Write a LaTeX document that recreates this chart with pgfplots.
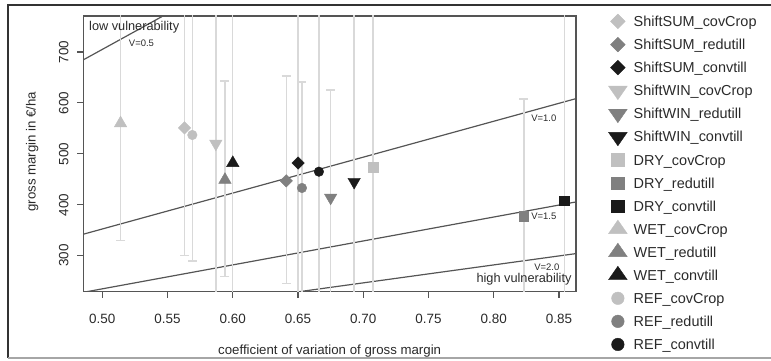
\documentclass[border=0pt]{standalone}
\usepackage{fontspec}
\setmainfont{Liberation Sans}
\usepackage{pgfplots}
\pgfplotsset{compat=1.18}
\definecolor{lg}{HTML}{C0C0C0}
\definecolor{mg}{HTML}{808080}
\definecolor{dk}{HTML}{1A1A1A}
\definecolor{eb}{HTML}{D9D9D9}
\definecolor{ln}{HTML}{555555}
\definecolor{tx}{HTML}{2A2A2A}
\definecolor{fr}{HTML}{333333}
\pgfplotsset{
  dia/.style={only marks, mark=square*, mark size=4.4bp, mark options={rotate=45, fill=#1, draw=#1},
    legend image post style={mark size=5.2bp}},
  tup/.style={only marks, mark=triangle*, mark size=7.2bp, mark options={fill=#1, draw=#1},
    legend image post style={mark size=9bp, /tikz/every mark/.append style={xscale=1.2}}},
  tdn/.style={only marks, mark=triangle*, mark size=7.2bp, mark options={rotate=180, fill=#1, draw=#1},
    legend image post style={mark size=9bp, /tikz/every mark/.append style={xscale=1.2}}},
  sq/.style={only marks, mark=square*, mark size=4.8bp, mark options={fill=#1, draw=#1},
    legend image post style={mark size=6.2bp}},
  ci/.style={only marks, mark=*, mark size=4.8bp, mark options={fill=#1, draw=#1},
    legend image post style={mark size=6.3bp}},
}
\begin{document}
\begin{tikzpicture}
\useasboundingbox (0bp,0bp) rectangle (771bp,361bp);
\draw[line width=2.2bp, fr] (771bp,356bp) -- (8bp,356bp) -- (8bp,3bp);
\draw[line width=1.2bp, gray!70] (8bp,3bp) -- (771bp,3bp);
\begin{axis}[
  at={(83.3bp,69.3bp)}, anchor=south west, scale only axis,
  width=492.7bp, height=275.7bp,
  xmin=0.48545, xmax=0.8630, ymin=229.4, ymax=770.6,
  xtick={0.50,0.55,0.60,0.65,0.70,0.75,0.80,0.85},
  xticklabels={0.50,0.55,0.60,0.65,0.70,0.75,0.80,0.85},
  ytick={300,400,500,600,700},
  yticklabels={300,400,500,600,700},
  tick align=outside, major tick length=6bp,
  xtick pos=bottom, ytick pos=left,
  axis line style={ln, line width=1.1bp},
  tick style={ln, line width=1.1bp},
  ticklabel style={font=\fontsize{13.5}{13.5}\selectfont, text=tx},
  xticklabel style={anchor=base, yshift=-25.6bp},
  yticklabel style={rotate=90, anchor=base},
  yticklabel shift=9bp,
  xlabel={coefficient of variation of gross margin},
  ylabel={gross margin in €/ha},
  label style={font=\fontsize{13.3}{13.3}\selectfont, text=tx},
  xlabel style={at={(axis description cs:0.5,-0.2290)}, anchor=base},
  ylabel style={at={(axis description cs:-0.097,0.508)}, anchor=base},
  legend style={at={(axis description cs:1.066,1.022)}, anchor=north west,
    draw=none, fill=none, inner sep=0pt, outer sep=0pt, row sep=0pt, column sep=6.5bp,
    font=\fontsize{14.5}{14.5}\selectfont, text=tx,
    nodes={inner sep=0pt, text height=16.7bp, text depth=6.37bp}},
  legend cell align=left,
]
% reference lines V = 0.5, 1.0, 1.5, 2.0
\addplot[forget plot, ln, line width=1.2bp] coordinates {(0.4,564) (0.9,1269)};
\addplot[forget plot, ln, line width=1.2bp] coordinates {(0.4,282) (0.9,634.5)};
\addplot[forget plot, ln, line width=1.2bp] coordinates {(0.4,188) (0.9,423)};
\addplot[forget plot, ln, line width=1.2bp] coordinates {(0.4,141) (0.9,317.25)};
% error bars
\addplot[forget plot, only marks, mark=none,
  error bars/.cd, y dir=both, y explicit,
  error bar style={eb, line width=1.4bp},
  error mark options={rotate=90, eb, line width=1.4bp, mark size=4.5bp}]
coordinates {
  (0.563,551) +- (0,251)
  (0.641,447) += (0,206) -= (0,202)
  (0.650,482) +- (0,330)
  (0.587,520) +- (0,330)
  (0.675,414) +- (0,211)
  (0.693,445) +- (0,340)
  (0.7075,474) +- (0,330)
  (0.823,378) +- (0,230)
  (0.854,408) +- (0,380)
  (0.514,560) +- (0,230)
  (0.594,449) += (0,194) -= (0,190)
  (0.600,482) +- (0,330)
  (0.569,537) +- (0,247)
  (0.653,433) +- (0,208)
  (0.666,465) +- (0,330)
};
\addplot[dia=lg] coordinates {(0.563,551)}; \addlegendentry{ShiftSUM\_covCrop}
\addplot[dia=mg] coordinates {(0.641,447)}; \addlegendentry{ShiftSUM\_redutill}
\addplot[dia=dk] coordinates {(0.650,482)}; \addlegendentry{ShiftSUM\_convtill}
\addplot[tdn=lg] coordinates {(0.587,520)}; \addlegendentry{ShiftWIN\_covCrop}
\addplot[tdn=mg] coordinates {(0.675,414)}; \addlegendentry{ShiftWIN\_redutill}
\addplot[tdn=dk] coordinates {(0.693,445)}; \addlegendentry{ShiftWIN\_convtill}
\addplot[sq=lg] coordinates {(0.7075,474)}; \addlegendentry{DRY\_covCrop}
\addplot[sq=mg] coordinates {(0.823,378)}; \addlegendentry{DRY\_redutill}
\addplot[sq=dk] coordinates {(0.854,408)}; \addlegendentry{DRY\_convtill}
\addplot[tup=lg] coordinates {(0.514,560)}; \addlegendentry{WET\_covCrop}
\addplot[tup=mg] coordinates {(0.594,449)}; \addlegendentry{WET\_redutill}
\addplot[tup=dk] coordinates {(0.600,482)}; \addlegendentry{WET\_convtill}
\addplot[ci=lg] coordinates {(0.569,537)}; \addlegendentry{REF\_covCrop}
\addplot[ci=mg] coordinates {(0.653,433)}; \addlegendentry{REF\_redutill}
\addplot[ci=dk] coordinates {(0.666,465)}; \addlegendentry{REF\_convtill}
% annotations
\node[anchor=west, font=\fontsize{12.8}{12.8}\selectfont, text=tx, inner sep=0pt] at (axis cs:0.4898,748) {low vulnerability};
\node[font=\fontsize{9.5}{9.5}\selectfont, text=tx, inner sep=0pt] at (axis cs:0.5300,717.7) {V=0.5};
\node[font=\fontsize{9.5}{9.5}\selectfont, text=tx, inner sep=0pt] at (axis cs:0.8383,570.6) {V=1.0};
\node[font=\fontsize{9.5}{9.5}\selectfont, text=tx, inner sep=0pt] at (axis cs:0.8383,376.5) {V=1.5};
\node[font=\fontsize{9.5}{9.5}\selectfont, text=tx, inner sep=0pt] at (axis cs:0.8406,277.5) {V=2.0};
\node[anchor=east, font=\fontsize{12.8}{12.8}\selectfont, text=tx, inner sep=0pt] at (axis cs:0.8597,253) {high vulnerability};
\end{axis}
\end{tikzpicture}
\end{document}
